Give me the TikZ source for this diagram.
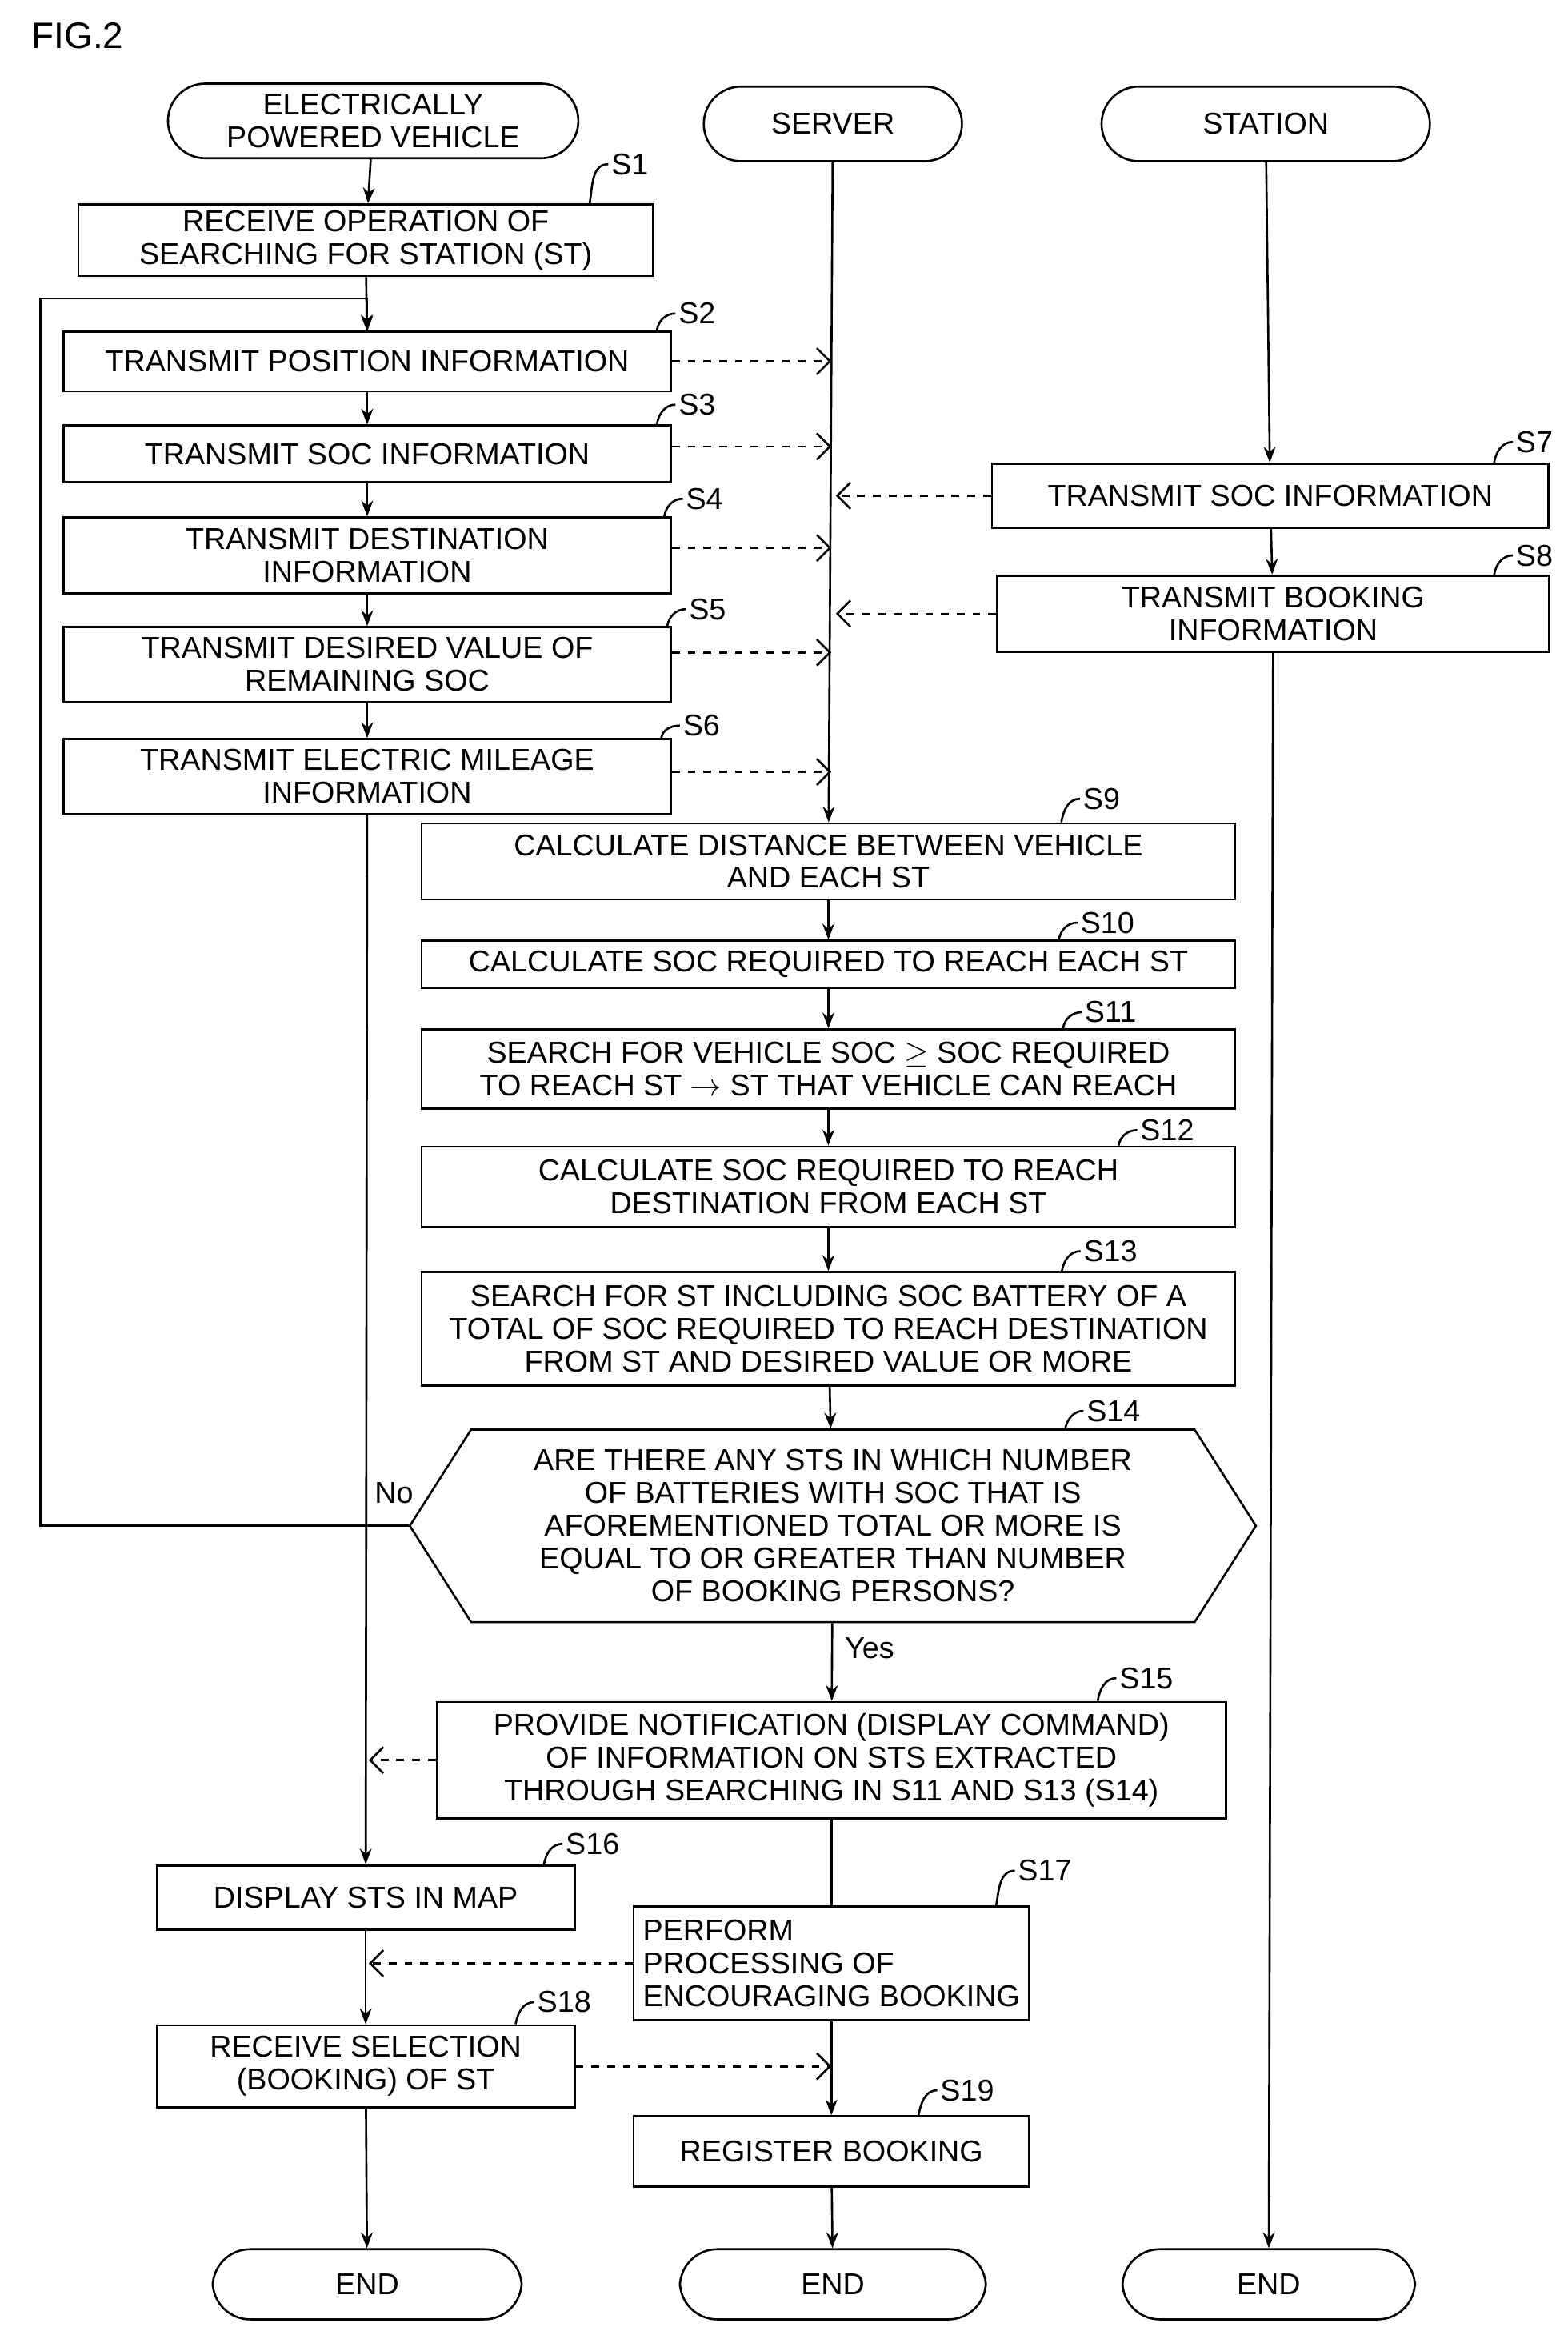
\documentclass[tikz,border=0pt]{standalone}
\usepackage{fontspec}
\setmainfont{Liberation Sans}
\usepackage{tikz}
\usetikzlibrary{arrows.meta,shapes.geometric,shapes.symbols,positioning}
\tikzstyle{stepbox} = [shape=rectangle,draw,thick,align=center,inner sep=1pt,font=\fontsize{11.5}{12.5}\selectfont]
\tikzstyle{term}  = [shape=rectangle,rounded corners=0.5cm,draw,thick,align=center,minimum height=1cm,font=\fontsize{11.5}{12.5}\selectfont]
\tikzstyle{flow}  = [thick,-{Stealth[length=6pt]}]
\tikzstyle{link}  = [thick,dashed,-{Straight Barb[length=5pt]}]
\tikzstyle{tag}   = [font=\fontsize{11.5}{12.5}\selectfont,inner sep=1pt]

\begin{document}
\begin{tikzpicture}[x=0.02cm,y=-0.02cm]
  \useasboundingbox (0,0) rectangle (1050,1564);
  \node[font=\fontsize{14}{16}\selectfont] (fig) at (52,24) {FIG.2};

  % Terminals
  \node[term,minimum width=5.5cm] (tveh) at (250,81) {ELECTRICALLY\\POWERED VEHICLE};
  \node[term,minimum width=3.46cm] (tsrv) at (558,83) {SERVER};
  \node[term,minimum width=4.4cm] (tsta) at (848,83) {STATION};
  \node[term,minimum width=4.14cm,minimum height=0.94cm] (eveh) at (246,1530) {END};
  \node[term,minimum width=4.1cm,minimum height=0.94cm] (esrv) at (558,1530) {END};
  \node[term,minimum width=3.92cm,minimum height=0.94cm] (esta) at (850,1530) {END};

  % Vehicle steps
  \node[stepbox,minimum width=7.7cm,minimum height=0.96cm] (s1) at (245,161) {RECEIVE OPERATION OF\\SEARCHING FOR STATION (ST)};
  \node[stepbox,minimum width=8.14cm,minimum height=0.8cm] (s2) at (246,242) {TRANSMIT POSITION INFORMATION};
  \node[stepbox,minimum width=8.14cm,minimum height=0.76cm] (s3) at (246,304) {TRANSMIT SOC INFORMATION};
  \node[stepbox,minimum width=8.14cm,minimum height=1.02cm] (s4) at (246,372) {TRANSMIT DESTINATION\\INFORMATION};
  \node[stepbox,minimum width=8.14cm,minimum height=1cm] (s5) at (246,445) {TRANSMIT DESIRED VALUE OF\\REMAINING SOC};
  \node[stepbox,minimum width=8.14cm,minimum height=1cm] (s6) at (246,520) {TRANSMIT ELECTRIC MILEAGE\\INFORMATION};
  \node[stepbox,minimum width=5.6cm,minimum height=0.86cm] (s16) at (245,1271) {DISPLAY STS IN MAP};
  \node[stepbox,minimum width=5.6cm,minimum height=1.1cm] (s18) at (245,1384) {RECEIVE SELECTION\\(BOOKING) OF ST};

  % Station steps
  \node[stepbox,minimum width=7.46cm,minimum height=0.86cm] (s7) at (851,332) {TRANSMIT SOC INFORMATION};
  \node[stepbox,minimum width=7.4cm,minimum height=1.02cm] (s8) at (853,411) {TRANSMIT BOOKING\\INFORMATION};

  % Server steps
  \node[stepbox,minimum width=10.9cm,minimum height=1.02cm] (s9) at (555,577) {CALCULATE DISTANCE BETWEEN VEHICLE\\AND EACH ST};
  \node[stepbox,minimum width=10.9cm,minimum height=0.64cm] (s10) at (555,646) {CALCULATE SOC REQUIRED TO REACH EACH ST};
  \node[stepbox,minimum width=10.9cm,minimum height=1.06cm] (s11) at (555,716) {SEARCH FOR VEHICLE SOC $\geq$ SOC REQUIRED\\TO REACH ST $\rightarrow$ ST THAT VEHICLE CAN REACH};
  \node[stepbox,minimum width=10.9cm,minimum height=1.08cm] (s12) at (555,795) {CALCULATE SOC REQUIRED TO REACH\\DESTINATION FROM EACH ST};
  \node[stepbox,minimum width=10.9cm,minimum height=1.52cm] (s13) at (555,890) {SEARCH FOR ST INCLUDING SOC BATTERY OF A\\TOTAL OF SOC REQUIRED TO REACH DESTINATION\\FROM ST AND DESIRED VALUE OR MORE};
  \node[draw,thick,shape=signal,signal to=west and east,signal pointer angle=115,minimum width=11.34cm,minimum height=2.58cm,inner sep=0pt,align=center,font=\fontsize{11.5}{12.5}\selectfont] (s14) at (558,1022) {ARE THERE ANY STS IN WHICH NUMBER\\OF BATTERIES WITH SOC THAT IS\\AFOREMENTIONED TOTAL OR MORE IS\\EQUAL TO OR GREATER THAN NUMBER\\OF BOOKING PERSONS?};
  \node[stepbox,minimum width=10.58cm,minimum height=1.56cm] (s15) at (557,1179) {PROVIDE NOTIFICATION (DISPLAY COMMAND)\\OF INFORMATION ON STS EXTRACTED\\THROUGH SEARCHING IN S11 AND S13 (S14)};
  \node[stepbox,minimum width=5.3cm,minimum height=1.52cm,align=left] (s17) at (557,1315) {PERFORM\\PROCESSING OF\\ENCOURAGING BOOKING};
  \node[stepbox,minimum width=5.3cm,minimum height=0.94cm] (s19) at (557,1441) {REGISTER BOOKING};

  % Step tags
  \foreach \n/\x/\y in {s1/422/110,s2/467/210,s3/467/271,s4/472/334,s5/474/408,s6/470/486,s7/1028/296,s8/1028/372,s9/738/535,s10/742/618,s11/744/678,s12/782/757,s13/744/838,s14/746/945,s15/768/1124,s16/397/1235,s17/700/1253,s18/378/1341,s19/648/1400}
    \node[tag] (t\n) at (\x,\y) {\MakeUppercase{\n}};
  \foreach \n in {s1,s2,s3,s4,s5,s6,s7,s8,s9,s10,s11,s12,s13,s15,s16,s17,s18,s19}
    \draw[thick] ([xshift=-0.25cm]t\n.west |- \n.north) to[out=80,in=180] (t\n.west);
  \draw[thick] ([xshift=-0.25cm]ts14.west |- 0,958) to[out=80,in=180] (ts14.west);

  % Vehicle flow
  \draw[flow] (tveh) -- (s1);
  \draw[flow] (s1) -- (s2);
  \foreach \a/\b in {s2/s3,s3/s4,s4/s5,s5/s6,s6/s16,s16/s18,s18/eveh}
    \draw[flow] (\a) -- (\b);
  \draw[flow] (s14.west) -- (27,1022) -- (27,200) -- (246,200) -- (246,222);
  \node[tag] (no) at (264,1000) {No};

  % Server flow
  \foreach \a/\b in {tsrv/s9,s9/s10,s10/s11,s11/s12,s12/s13,s13/s14,s14/s15}
    \draw[flow] (\a) -- (\b);
  \draw[thick] (s15) -- (s17);
  \draw[flow] (s17) -- (s19);
  \draw[flow] (s19) -- (esrv);
  \node[tag,anchor=west] (yes) at (564,1104) {Yes};

  % Station flow
  \foreach \a/\b in {tsta/s7,s7/s8,s8/esta}
    \draw[flow] (\a) -- (\b);

  % Messages
  \foreach \n/\y in {s2/242,s3/299,s4/367,s5/437,s6/517}
    \draw[link] (\n.east |- 0,\y) -- (557,\y);
  \draw[link] (s7.west) -- (560,332);
  \draw[link] (s8.west) -- (560,411);
  \draw[link] (s15.west) -- (247,1179);
  \draw[link] (s17.west |- 0,1315) -- (247,1315);
  \draw[link] (s18.east) -- (557,1384);
\end{tikzpicture}
\end{document}
